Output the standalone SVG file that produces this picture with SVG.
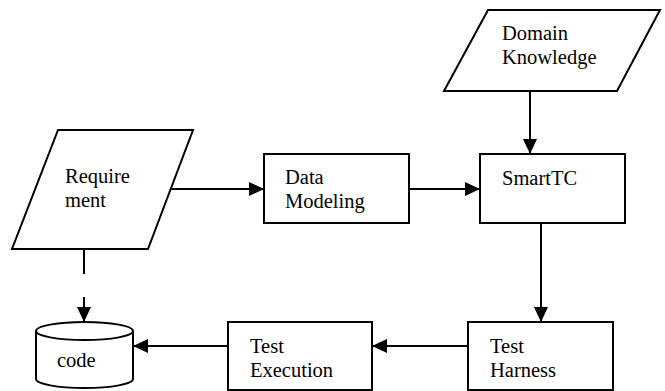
<svg xmlns="http://www.w3.org/2000/svg" width="665" height="391" viewBox="0 0 665 391">
<style>
.s{fill:#fff;stroke:#000;stroke-width:2}
.t{font-family:'Liberation Serif','Times New Roman',Times,serif;font-size:20.5px;fill:#000}
.c{fill:none;stroke:#000;stroke-width:2}
</style>
<defs>
<marker id="ah" markerUnits="userSpaceOnUse" markerWidth="16" markerHeight="14" refX="15" refY="7" orient="auto">
<path d="M0,0 L15,7 L0,14 z" fill="#000"/>
</marker>
</defs>
<rect width="665" height="391" fill="#fff"/>
<g id="requirement">
<polygon class="s" points="58,130 193,130 148,249 12,249"/>
<text class="t" x="65" y="183">Require</text>
<text class="t" x="65" y="207">ment</text>
</g>
<g id="data-modeling">
<rect class="s" x="264" y="154" width="145" height="69"/>
<text class="t" x="285" y="184">Data</text>
<text class="t" x="285" y="208">Modeling</text>
</g>
<g id="domain-knowledge">
<polygon class="s" points="488,10 660,10 617,91 444,91"/>
<text class="t" x="502" y="40">Domain</text>
<text class="t" x="502" y="64">Knowledge</text>
</g>
<g id="smarttc">
<rect class="s" x="480" y="154" width="145" height="69"/>
<text class="t" x="502" y="185">SmartTC</text>
</g>
<g id="test-harness">
<rect class="s" x="468" y="322" width="145" height="68"/>
<text class="t" x="490" y="353">Test</text>
<text class="t" x="490" y="377">Harness</text>
</g>
<g id="test-execution">
<rect class="s" x="228" y="322" width="144" height="68"/>
<text class="t" x="250" y="353">Test</text>
<text class="t" x="250" y="377">Execution</text>
</g>
<g id="code">
<path class="s" d="M36,331 L36,379 A48.5,9 0 0 0 133,379 L133,331"/>
<ellipse class="s" cx="84.5" cy="331" rx="48.5" ry="9"/>
<text class="t" x="57" y="367">code</text>
</g>
<g id="connectors">
<line class="c" x1="171" y1="189" x2="264" y2="189" marker-end="url(#ah)"/>
<line class="c" x1="409" y1="189" x2="480" y2="189" marker-end="url(#ah)"/>
<line class="c" x1="530" y1="91" x2="530" y2="154" marker-end="url(#ah)"/>
<line class="c" x1="541" y1="223" x2="541" y2="322" marker-end="url(#ah)"/>
<line class="c" x1="468" y1="346" x2="372" y2="346" marker-end="url(#ah)"/>
<line class="c" x1="228" y1="346" x2="133" y2="346" marker-end="url(#ah)"/>
<line class="c" x1="84" y1="249" x2="84" y2="274"/>
<line class="c" x1="84" y1="297" x2="84" y2="322" marker-end="url(#ah)"/>
</g>
</svg>
